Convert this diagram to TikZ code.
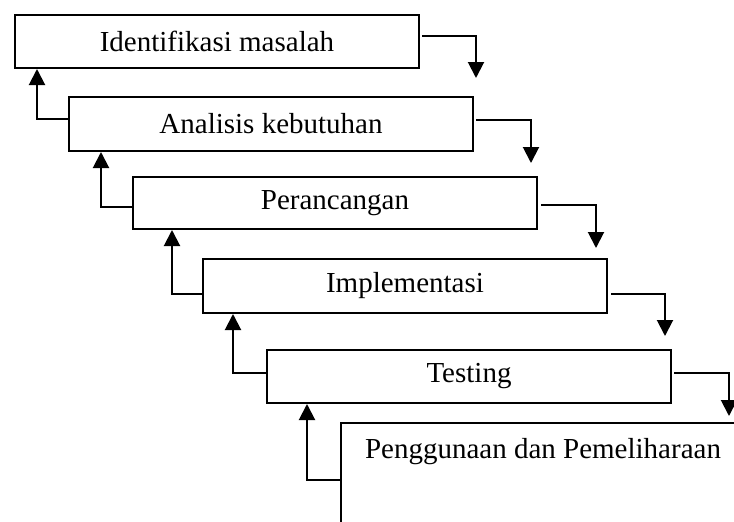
\documentclass[tikz,border=0pt]{standalone}
\usepackage{fontspec}
\setmainfont{Liberation Serif}
\usetikzlibrary{arrows.meta}
\begin{document}
\begin{tikzpicture}[x=1pt,y=1pt,
  stagebox/.style={draw,line width=2pt,minimum width=404pt,minimum height=53pt,inner sep=0pt,anchor=north west,font=\fontsize{29}{34}\selectfont},
  arr/.style={line width=2pt,-{Triangle[length=16pt,width=16pt]}}]
\useasboundingbox (0,0) rectangle (734,-522);
\clip (0,0) rectangle (734,-522);
\node[stagebox] (box1) at (14,-14) {Identifikasi masalah};
\node[stagebox,minimum height=54pt] (box2) at (68,-96) {Analisis kebutuhan};
\node[stagebox,minimum height=52pt] (box3) at (132,-176) {Perancangan};
\node[stagebox,minimum height=54pt] (box4) at (202,-258) {Implementasi};
\node[stagebox] (box5) at (266,-349) {Testing};
\node[draw,line width=2pt,minimum width=404pt,inner xsep=0pt,inner ysep=15pt,text height=20pt,text depth=150pt,anchor=north west,font=\fontsize{29}{34}\selectfont] (box6) at (340,-422) {Penggunaan dan Pemeliharaan};
% feedback arrows (left)
\draw[arr] ([yshift=5pt]box2.west) -| ([xshift=23pt]box1.south west);
\draw[arr] ([yshift=-3.5pt]box3.west) -| ([xshift=33pt]box2.south west);
\draw[arr] ([yshift=-7.5pt]box4.west) -| ([xshift=40pt]box3.south west);
\draw[arr] ([yshift=3.5pt]box5.west) -| ([xshift=31pt]box4.south west);
\draw[arr] ([yshift=-58pt]box6.north west) -| ([xshift=41pt]box5.south west);
% forward arrows (right)
\draw[arr] ([shift={(2pt,5.5pt)}]box1.east) -| ([shift={(2pt,18pt)}]box2.north east);
\draw[arr] ([shift={(2pt,4pt)}]box2.east) -| ([shift={(-7pt,13pt)}]box3.north east);
\draw[arr] ([shift={(3pt,-1.5pt)}]box3.east) -| ([shift={(-12pt,10pt)}]box4.north east);
\draw[arr] ([shift={(3pt,-7.5pt)}]box4.east) -| ([shift={(-7pt,13pt)}]box5.north east);
\draw[arr] ([shift={(2pt,3.5pt)}]box5.east) -| ([shift={(-17pt,6pt)}]box6.north east);
\end{tikzpicture}
\end{document}
